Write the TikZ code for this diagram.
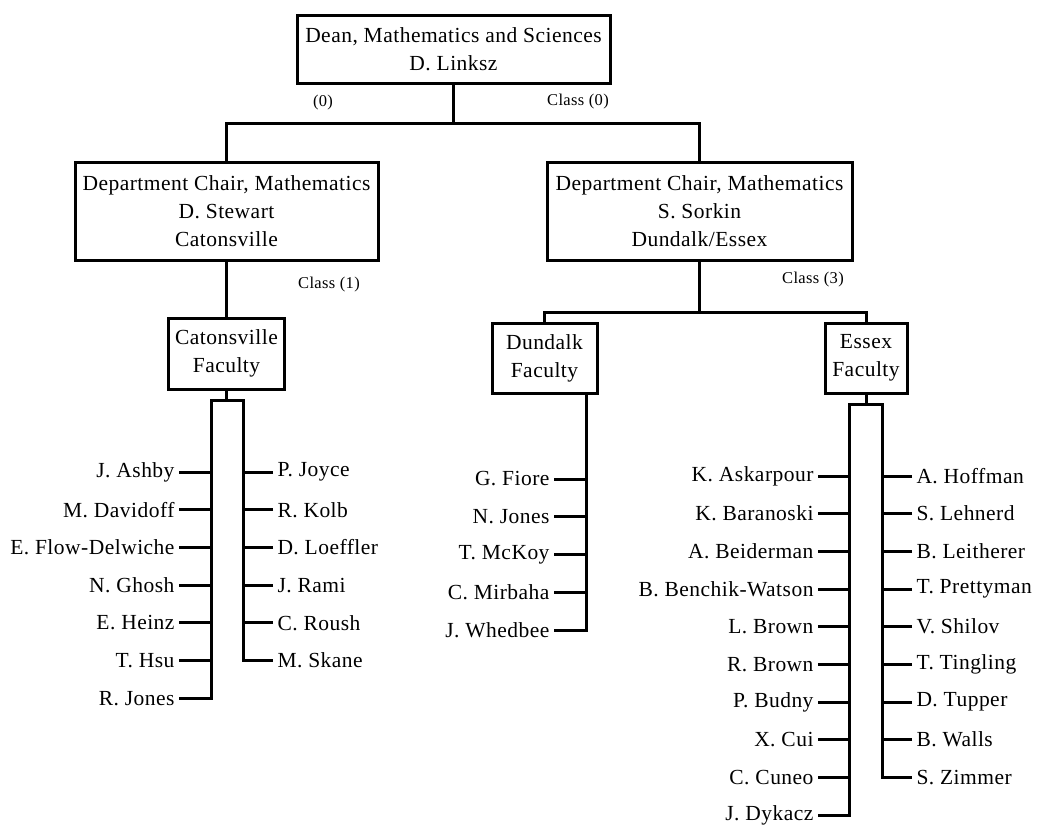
\documentclass[tikz,border=0pt]{standalone}
\usepackage{fontspec}
\setmainfont[LetterSpace=2.2]{Liberation Serif}
\begin{document}
\begin{tikzpicture}[x=1pt,y=-1pt, line width=3pt,
  box/.style={draw, rectangle, inner sep=0pt, align=center, font=\fontsize{21.5}{28}\selectfont},
  nm/.style={inner sep=3pt, font=\fontsize{21.5}{26}\selectfont},
  cls/.style={inner sep=0pt, font=\fontsize{16.5}{20}\selectfont}]
\useasboundingbox (0,0) rectangle (1037,827);

% boxes
\node[box, minimum width=313pt, minimum height=68pt] (T) at (453.5,49) {Dean, Mathematics and Sciences\\D. Linksz};
\node[box, minimum width=303pt, minimum height=98pt] (L) at (226.5,211) {Department Chair, Mathematics\\D. Stewart\\Catonsville};
\node[box, minimum width=305pt, minimum height=98pt] (R) at (699.5,211) {Department Chair, Mathematics\\S. Sorkin\\Dundalk/Essex};
\node[box, minimum width=116pt, minimum height=71pt] (C) at (226.5,353.5) {Catonsville\\Faculty};
\node[box, minimum width=105pt, minimum height=70pt] (D) at (544.5,358) {Dundalk\\Faculty};
\node[box, minimum width=82pt, minimum height=70pt] (E) at (866,358) {Essex\\Faculty};

% class labels
\node[cls] (c0a) at (323,103) {(0)};
\node[cls] (c0b) at (578,102) {Class (0)};
\node[cls] (c1) at (329,285) {Class (1)};
\node[cls] (c3) at (813,280) {Class (3)};

% top connectors
\coordinate (j0) at (453,123);
\draw (T.south -| j0) -- (j0);
\draw (L.north) |- (j0) -| (R.north);
\draw (L.south) -- (C.north);
\coordinate (j1) at (699.5,312);
\draw (R.south) -- (j1);
\draw (D.north) |- (j1) -| (E.north);

% Catonsville faculty
\coordinate (csl) at (211,400);
\coordinate (csr) at (243,400);
\draw (C.south) -- (C.south |- csl);
\foreach \n [count=\i] in {J. Ashby,M. Davidoff,E. Flow-Delwiche,N. Ghosh,E. Heinz,T. Hsu,R. Jones}
  \node[nm, anchor=east] (cl\i) at (179,{472+37.7*(\i-1)}) {\n};
\foreach \n [count=\i] in {P. Joyce,R. Kolb,D. Loeffler,J. Rami,C. Roush,M. Skane}
  \node[nm, anchor=west] (cr\i) at (273,{472+37.7*(\i-1)}) {\n};
\foreach \i in {1,...,6} \draw (cl\i.east) -- (cl\i.east -| csl);
\foreach \i in {1,...,5} \draw (cr\i.west) -- (cr\i.west -| csr);
\draw (cl7.east) -| (csl) -- (csr) |- (cr6.west);

% Dundalk faculty
\coordinate (dx) at (586,0);
\foreach \n [count=\i] in {G. Fiore,N. Jones,T. McKoy,C. Mirbaha,J. Whedbee}
  \node[nm, anchor=east] (dl\i) at (554,{479+37.75*(\i-1)}) {\n};
\foreach \i in {1,...,4} \draw (dl\i.east) -- (dl\i.east -| dx);
\draw (dl5.east) -| (D.south -| dx);

% Essex faculty
\coordinate (esl) at (849,404);
\coordinate (esr) at (882,404);
\draw (E.south) -- (E.south |- esl);
\foreach \n [count=\i] in {K. Askarpour,K. Baranoski,A. Beiderman,B. Benchik-Watson,L. Brown,R. Brown,P. Budny,X. Cui,C. Cuneo,J. Dykacz}
  \node[nm, anchor=east] (el\i) at (818,{476+37.67*(\i-1)}) {\n};
\foreach \n [count=\i] in {A. Hoffman,S. Lehnerd,B. Leitherer,T. Prettyman,V. Shilov,T. Tingling,D. Tupper,B. Walls,S. Zimmer}
  \node[nm, anchor=west] (er\i) at (912,{476+37.67*(\i-1)}) {\n};
\foreach \i in {1,...,9} \draw (el\i.east) -- (el\i.east -| esl);
\foreach \i in {1,...,8} \draw (er\i.west) -- (er\i.west -| esr);
\draw (el10.east) -| (esl) -- (esr) |- (er9.west);
\end{tikzpicture}
\end{document}
